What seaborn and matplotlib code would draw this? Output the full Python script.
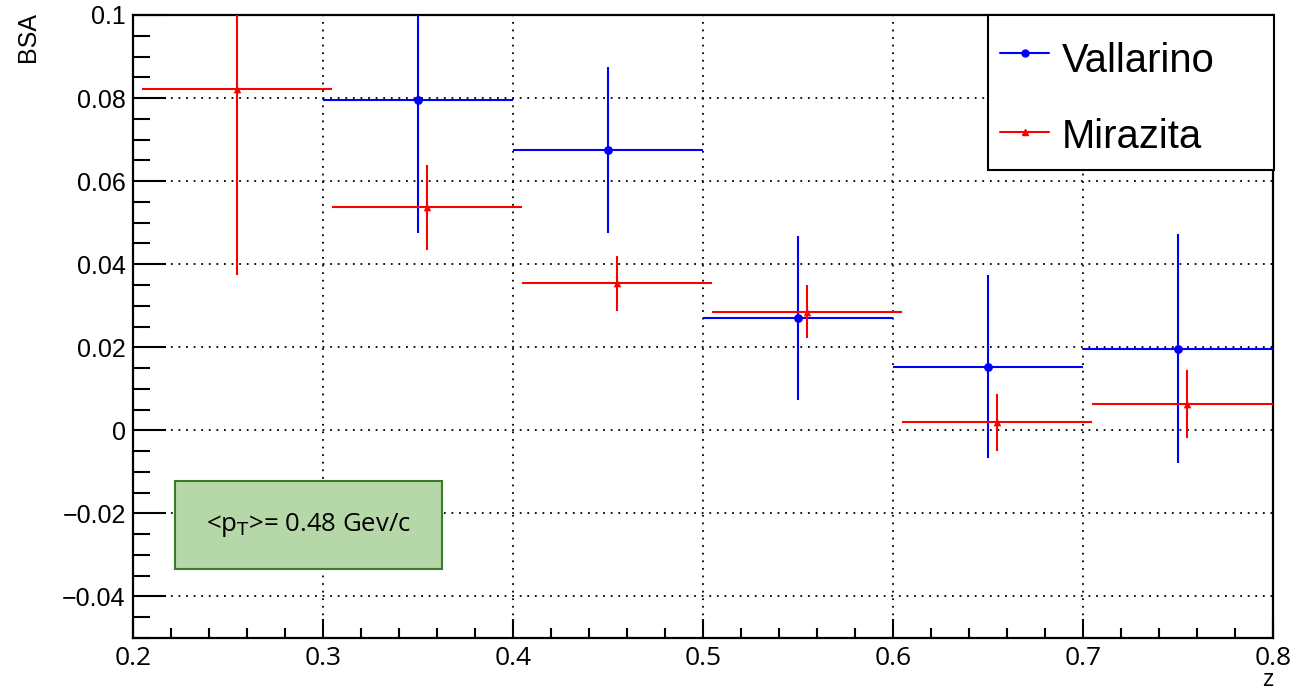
import numpy as np
import pandas as pd
import matplotlib
matplotlib.use("Agg")
import matplotlib.pyplot as plt
from matplotlib.patches import Rectangle
from matplotlib.ticker import MultipleLocator, FixedLocator
import seaborn as sns

# Beam-spin asymmetry vs z, two analyses
z_vallarino = [0.35, 0.45, 0.55, 0.65, 0.75]
bsa_vallarino = [0.0795, 0.0675, 0.0271, 0.0153, 0.0197]
err_vallarino = [0.0320, 0.0200, 0.0198, 0.0220, 0.0276]

z_mirazita = [0.255, 0.355, 0.455, 0.555, 0.655, 0.755]
bsa_mirazita = [0.0823, 0.0537, 0.0354, 0.0286, 0.0019, 0.0064]
err_mirazita = [0.0448, 0.0103, 0.0066, 0.0063, 0.0068, 0.0082]

bin_halfwidth = 0.05

x_ticks = [0.2, 0.3, 0.4, 0.5, 0.6, 0.7, 0.8]
x_ticklabels = ["0.2", "0.3", "0.4", "0.5", "0.6", "0.7", "0.8"]
y_ticks = [-0.04, -0.02, 0.0, 0.02, 0.04, 0.06, 0.08, 0.1]
y_ticklabels = ["\u22120.04", "\u22120.02", "0", "0.02", "0.04", "0.06", "0.08", "0.1"]

series_names = ["Vallarino", "Mirazita"]

sns.set_theme(style="white")
plt.rcParams["font.family"] = ["Liberation Sans", "DejaVu Sans"]
plt.rcParams["text.color"] = "black"
plt.rcParams["xtick.labelcolor"] = "black"
plt.rcParams["ytick.labelcolor"] = "black"

df_v = pd.DataFrame({"z": z_vallarino, "BSA": bsa_vallarino, "err": err_vallarino})
df_m = pd.DataFrame({"z": z_mirazita, "BSA": bsa_mirazita, "err": err_mirazita})

W, H = 1291, 691
fig = plt.figure(figsize=(W / 100, H / 100), dpi=100)
ax_l, ax_r, ax_t, ax_b = 132.7, 1273.0, 15.0, 638.0
ax = fig.add_axes([ax_l / W, 1 - ax_b / H, (ax_r - ax_l) / W, (ax_b - ax_t) / H])


def axfrac(px, py):
    """Pixel position on the canvas -> axes fraction."""
    return (px - ax_l) / (ax_r - ax_l), (ax_b - py) / (ax_b - ax_t)


blue = "#0000ff"
red = "#ff0000"

ax.errorbar(df_v["z"], df_v["BSA"], xerr=bin_halfwidth, yerr=df_v["err"],
            fmt="none", ecolor=blue, elinewidth=1.5, capsize=0, zorder=3)
ax.errorbar(df_m["z"], df_m["BSA"], xerr=bin_halfwidth, yerr=df_m["err"],
            fmt="none", ecolor=red, elinewidth=1.5, capsize=0, zorder=3)
sns.scatterplot(data=df_v, x="z", y="BSA", ax=ax, color=blue, marker="o",
                s=40, edgecolor=blue, linewidth=0, zorder=4, legend=False)
sns.scatterplot(data=df_m, x="z", y="BSA", ax=ax, color=red, marker="^",
                s=30, edgecolor=red, linewidth=0, zorder=4, legend=False)

ax.set_xlim(0.2, 0.8)
ax.set_ylim(-0.05, 0.1)

ax.xaxis.set_major_locator(FixedLocator(x_ticks))
ax.yaxis.set_major_locator(FixedLocator(y_ticks))
ax.xaxis.set_minor_locator(MultipleLocator(0.02))
ax.yaxis.set_minor_locator(MultipleLocator(0.005))

ax.tick_params(axis="x", which="major", direction="in", length=14, width=1.5,
               color="black", pad=6, bottom=True, top=False, labelsize=19,
               labelcolor="black")
ax.tick_params(axis="x", which="minor", direction="in", length=7, width=1.5,
               color="black", bottom=True, top=False)
ax.tick_params(axis="y", which="major", direction="in", length=24, width=1.5,
               color="black", pad=5, left=True, right=False, labelsize=18,
               labelcolor="black")
ax.tick_params(axis="y", which="minor", direction="in", length=12, width=1.5,
               color="black", left=True, right=False)

ax.set_xticklabels(x_ticklabels)
ax.set_yticklabels(y_ticklabels)
for lab in ax.get_xticklabels():
    lab.set_fontfamily("Open Sans")
    lab.set_fontsize(19)
    lab.set_color("black")
for lab in ax.get_yticklabels():
    lab.set_fontfamily("Liberation Sans")
    lab.set_fontsize(18)
    lab.set_color("black")

ax.grid(True, which="major", color="black", linestyle=(0, (1, 3.2)), linewidth=1.3)
ax.set_axisbelow(True)
for sp in ax.spines.values():
    sp.set_color("black")
    sp.set_linewidth(1.6)
    sp.set_visible(True)

ax.set_xlabel("")
ax.set_ylabel("")
fig.text(1268 / W, 1 - 686 / H, "z", ha="center", va="baseline",
         fontfamily="Open Sans", fontsize=17, color="black")
fig.text(28 / W, 1 - 12 / H, "BSA", rotation=90, ha="center", va="top",
         fontfamily="Liberation Sans", fontsize=18, color="black")

# Kinematic annotation box
box = Rectangle((0.2225, -0.0335), 0.1405, 0.0212, transform=ax.transData,
                facecolor="#b6d7a8", edgecolor="#3d7a2b", linewidth=1.5, zorder=5)
ax.add_patch(box)
ax.text(0.2225 + 0.1405 / 2, -0.0335 + 0.0212 / 2, "<p$_\\mathrm{T}$>= 0.48 Gev/c",
        ha="center", va="center", fontfamily="Open Sans", fontsize=18.5,
        color="black", zorder=6)

# Legend box in the upper-right corner
fx0, fy0 = axfrac(988, 170)
fx1, fy1 = axfrac(1274, 15)
ax.add_patch(Rectangle((fx0, fy0), fx1 - fx0, fy1 - fy0, transform=ax.transAxes,
                       facecolor="white", edgecolor="black", linewidth=1.5,
                       zorder=10, clip_on=False))
legend_rows = [(series_names[0], blue, "o", 5, 52.5, 72),
               (series_names[1], red, "^", 4.5, 132, 148)]
for name, col, mk, ms, line_py, base_py in legend_rows:
    hx0, hy = axfrac(1000, line_py)
    hx1, _ = axfrac(1049, line_py)
    ax.plot([hx0, hx1], [hy, hy], color=col, lw=1.5, transform=ax.transAxes,
            clip_on=False, zorder=11)
    ax.plot([(hx0 + hx1) / 2], [hy], color=col, marker=mk, markersize=ms,
            transform=ax.transAxes, clip_on=False, zorder=12)
    tx, ty = axfrac(1062, base_py)
    ax.text(tx, ty, name, transform=ax.transAxes, ha="left", va="baseline",
            fontfamily="Liberation Sans", fontsize=28.8, color="black", zorder=12)

fig.savefig("out.png", dpi=100, facecolor="white")
